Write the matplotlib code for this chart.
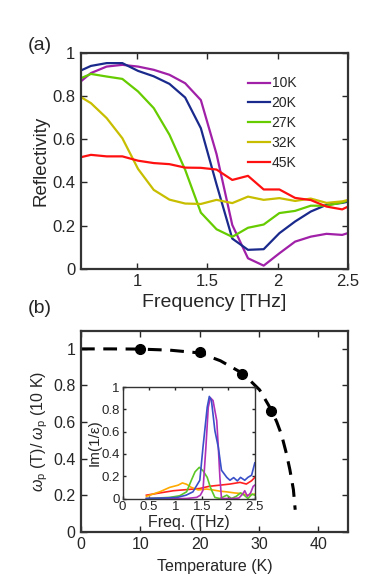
import numpy as np
import matplotlib
matplotlib.use("Agg")
import matplotlib.pyplot as plt

plt.rcParams['font.family'] = ['Liberation Sans', 'DejaVu Sans']
plt.rcParams['mathtext.fontset'] = 'custom'
plt.rcParams['mathtext.it'] = 'Liberation Sans:italic'
plt.rcParams['mathtext.rm'] = 'Liberation Sans'

TXT = '#262626'

# --- panel (a): reflectivity vs frequency ---
freq = 0.559 + 0.11175 * np.arange(19)
refl_10k = [0.845, 0.905, 0.935, 0.943, 0.935, 0.92, 0.897, 0.858, 0.78, 0.53, 0.203,
            0.049, 0.015, 0.072, 0.126, 0.149, 0.162, 0.157, 0.18]
refl_20k = [0.905, 0.938, 0.951, 0.951, 0.915, 0.89, 0.855, 0.792, 0.65, 0.39, 0.14,
            0.088, 0.091, 0.165, 0.219, 0.265, 0.296, 0.305, 0.32]
refl_27k = [0.87, 0.901, 0.889, 0.878, 0.82, 0.743, 0.62, 0.458, 0.26, 0.183, 0.148,
            0.19, 0.205, 0.258, 0.268, 0.292, 0.292, 0.307, 0.33]
refl_32k = [0.81, 0.766, 0.697, 0.604, 0.462, 0.365, 0.32, 0.302, 0.30, 0.319, 0.304,
            0.334, 0.319, 0.327, 0.314, 0.325, 0.305, 0.312, 0.33]
refl_45k = [0.51, 0.527, 0.52, 0.52, 0.50, 0.489, 0.484, 0.468, 0.467, 0.459, 0.411,
            0.43, 0.367, 0.367, 0.328, 0.318, 0.288, 0.275, 0.31]
labels_a = ['10K', '20K', '27K', '32K', '45K']
colors_a = ['#A020A8', '#1A2A8C', '#66CC00', '#C8BE00', '#FF1010']

# --- panel (b): plasma frequency ratio ---
temp_pts = [10, 20, 27.2, 32.1]
wp_pts = [1.0, 0.982, 0.865, 0.662]
curve_t = [0, 5, 10, 15, 20, 23.5, 27.3, 30.1, 32.1, 33.0, 33.8, 34.6, 35.2, 35.8, 36.1]
curve_w = [1.0, 1.0, 0.999, 0.993, 0.978, 0.935, 0.865, 0.776, 0.665, 0.60, 0.53, 0.43,
           0.34, 0.23, 0.12]

# --- inset: loss function ---
in_blue_x = [0.45, 0.8, 1.03, 1.2, 1.33, 1.46, 1.52, 1.6, 1.64, 1.68, 1.745, 1.81, 1.87,
             1.97, 2.03, 2.1, 2.17, 2.23, 2.31, 2.37, 2.44, 2.5]
in_blue_y = [0.0, 0.005, 0.01, 0.03, 0.06, 0.164, 0.46, 0.82, 0.917, 0.88, 0.61, 0.46,
             0.254, 0.19, 0.164, 0.188, 0.158, 0.19, 0.164, 0.19, 0.21, 0.32]
in_mag_x = [0.45, 0.9, 1.2, 1.4, 1.47, 1.52, 1.575, 1.62, 1.66, 1.71, 1.78, 1.81, 1.84,
            1.87, 1.95, 2.1, 2.2, 2.27, 2.31, 2.36, 2.42, 2.47, 2.5]
in_mag_y = [0.0, 0.0, 0.0, 0.01, 0.03, 0.074, 0.46, 0.82, 0.905, 0.88, 0.70, 0.46, 0.19,
            0.0, 0.0, 0.0, 0.005, 0.04, 0.07, 0.02, 0.05, 0.11, 0.12]
in_grn_x = [0.45, 0.89, 1.08, 1.21, 1.3, 1.37, 1.45, 1.52, 1.6, 1.66, 1.745, 1.84, 1.97,
            2.06, 2.15, 2.23, 2.3, 2.37, 2.45, 2.5]
in_grn_y = [0.0, 0.01, 0.025, 0.06, 0.164, 0.24, 0.28, 0.25, 0.19, 0.1, 0.01, 0.0, 0.03,
            0.0, 0.02, 0.05, 0.03, 0.0, 0.04, 0.03]
in_org_x = [0.45, 0.7, 0.89, 1.05, 1.13, 1.21, 1.3, 1.43, 1.59, 1.71, 1.84, 1.97, 2.12,
            2.25, 2.37, 2.5]
in_org_y = [0.02, 0.06, 0.10, 0.12, 0.14, 0.128, 0.10, 0.077, 0.085, 0.077, 0.066, 0.06,
            0.05, 0.045, 0.03, 0.04]
in_red_x = [0.45, 0.7, 0.96, 1.21, 1.46, 1.64, 1.84, 2.03, 2.22, 2.34, 2.44, 2.5]
in_red_y = [0.03, 0.05, 0.07, 0.08, 0.09, 0.11, 0.12, 0.13, 0.145, 0.13, 0.16, 0.19]


def style_axes(ax, lw=1.6, size=12, length=4):
    for s in ax.spines.values():
        s.set_linewidth(lw)
        s.set_color('#333333')
    ax.tick_params(direction='in', top=True, right=True, length=length, width=1.0,
                   labelsize=size, colors=TXT, pad=4)


fig = plt.figure(figsize=(3.82, 5.77), dpi=100)

# panel (a)
ax1 = fig.add_axes([0.212, 0.534, 0.699, 0.375])
for ys, lab, c in zip([refl_10k, refl_20k, refl_27k, refl_32k, refl_45k], labels_a, colors_a):
    ax1.plot(freq, ys, color=c, lw=1.6, label=lab)
ax1.set_xlim(0.6, 2.5)
ax1.set_ylim(0, 1)
ax1.set_xticks([1, 1.5, 2, 2.5])
ax1.set_xticklabels(['1', '1.5', '2', '2.5'])
ax1.set_yticks([0, 0.2, 0.4, 0.6, 0.8, 1])
ax1.set_yticklabels(['0', '0.2', '0.4', '0.6', '0.8', '1'])
style_axes(ax1)
ax1.set_xlabel('Frequency [THz]', fontsize=14, color=TXT, labelpad=3)
ax1.set_ylabel('Reflectivity', fontsize=13.5, color=TXT, labelpad=2)
leg = ax1.legend(loc='upper left', bbox_to_anchor=(0.605, 0.915), frameon=False, fontsize=10,
                 handlelength=1.6, handletextpad=0.1, labelspacing=0.42, borderaxespad=0)
for t in leg.get_texts():
    t.set_color(TXT)
fig.text(0.105, 0.922, '(a)', fontsize=14, color=TXT, ha='center', va='center')

# panel (b)
ax2 = fig.add_axes([0.212, 0.0785, 0.699, 0.3485])
ax2.plot(curve_t, curve_w, color='black', lw=2.2, linestyle=(0, (4.5, 2.8)), zorder=2)
ax2.plot(temp_pts, wp_pts, 'o', color='black', ms=7, zorder=3)
ax2.set_xlim(0, 45)
ax2.set_ylim(0, 1.1)
ax2.set_xticks([0, 10, 20, 30, 40])
ax2.set_yticks([0, 0.2, 0.4, 0.6, 0.8, 1])
ax2.set_yticklabels(['0', '0.2', '0.4', '0.6', '0.8', '1'])
style_axes(ax2, size=11.5)
ax2.set_xlabel('Temperature (K)', fontsize=11.5, color=TXT, labelpad=5)
ax2.set_ylabel(r'$\omega_{\rm p}$ (T)/ $\omega_{\rm p}$ (10 K)', fontsize=11.5,
               color=TXT, labelpad=2)
fig.text(0.105, 0.466, '(b)', fontsize=14, color=TXT, ha='center', va='center')

# inset
ax3 = fig.add_axes([0.321, 0.136, 0.346, 0.193], zorder=5)
ax3.plot(in_red_x, in_red_y, color='#FF2020', lw=1.2)
ax3.plot(in_org_x, in_org_y, color='#FFAA00', lw=1.2)
ax3.plot(in_grn_x, in_grn_y, color='#5CC828', lw=1.2)
ax3.plot(in_mag_x, in_mag_y, color='#B030B8', lw=1.2)
ax3.plot(in_blue_x, in_blue_y, color='#3A50C8', lw=1.2)
ax3.set_xlim(0, 2.5)
ax3.set_ylim(0, 1)
ax3.set_xticks([0, 0.5, 1, 1.5, 2, 2.5])
ax3.set_xticklabels(['0', '0.5', '1', '1.5', '2', '2.5'])
ax3.set_yticks([0, 0.2, 0.4, 0.6, 0.8, 1])
ax3.set_yticklabels(['0', '0.2', '0.4', '0.6', '0.8', '1'])
style_axes(ax3, lw=1.0, size=9.5, length=2.5)
ax3.tick_params(pad=2)
ax3.set_xlabel('Freq. (THz)', fontsize=11.5, color=TXT, labelpad=1)
ax3.set_ylabel('Im(1/ε)', fontsize=11, color=TXT, labelpad=0)

fig.savefig('out.png', dpi=100)
